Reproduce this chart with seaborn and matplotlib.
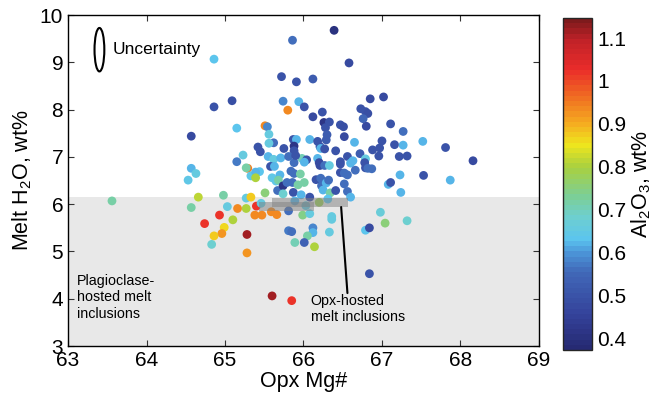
import numpy as np
import pandas as pd
import matplotlib
matplotlib.use("Agg")
import matplotlib.pyplot as plt
import seaborn as sns
from matplotlib.colors import LinearSegmentedColormap, Normalize
from matplotlib.patches import Ellipse, Rectangle

# values
opx_mg = [64.86, 65.09, 64.86, 65.15, 64.57, 65.23, 65.15, 65.42, 64.57, 64.63,
          64.53, 65.29, 65.27, 65.33, 65.44, 66.39, 65.86, 66.58, 65.72, 65.91,
          66.12, 66.85, 67.02, 65.74, 65.94, 65.80, 66.01, 66.24, 66.12, 66.73,
          66.79, 66.82, 66.76, 66.26, 66.33, 66.28, 66.47, 66.51, 66.80, 67.11,
          67.27, 67.52, 67.81, 68.16, 65.51, 65.54, 65.56, 65.87, 65.91, 66.08,
          66.18, 66.30, 66.29, 66.52, 66.65, 67.00, 67.16, 67.27, 66.88, 66.97,
          65.45, 65.62, 65.56, 65.75, 65.88, 65.88, 66.21, 66.22, 66.27, 66.41,
          66.56, 66.72, 66.79, 66.96, 67.22, 67.32, 65.55, 65.62, 65.71, 65.81,
          65.98, 66.04, 65.88, 66.01, 65.90, 66.18, 66.20, 66.21, 66.27, 66.33,
          66.47, 66.47, 66.60, 66.63, 66.78, 66.79, 66.82, 66.87, 67.23, 67.53,
          65.58, 65.63, 65.39, 65.84, 65.88, 65.96, 66.47, 66.52, 66.66, 66.56,
          65.39, 65.60, 67.87, 67.08, 67.11, 67.24, 65.67, 64.66, 64.98, 65.27,
          65.33, 65.51, 65.65, 65.70, 65.68, 65.74, 65.79, 65.86, 65.93, 66.01,
          65.74, 65.87, 65.97, 66.16, 66.22, 66.23, 66.29, 66.32, 66.25, 66.34,
          66.41, 66.52, 66.56, 66.60, 66.08, 66.20, 66.31, 63.56, 64.57, 65.03,
          65.16, 65.27, 65.40, 65.46, 65.38, 65.47, 65.59, 65.66, 64.93, 64.74,
          65.10, 64.99, 64.96, 64.86, 64.83, 65.28, 65.28, 65.81, 65.85, 65.81,
          65.99, 66.08, 66.36, 66.36, 66.12, 66.12, 66.05, 65.89, 66.01, 66.14,
          66.33, 66.98, 67.04, 66.79, 66.84, 67.32, 65.60, 65.85, 66.84, 66.03,
          65.89]
melt_h2o = [9.07, 8.19, 8.06, 7.61, 7.44, 7.04, 6.90, 7.21, 6.76, 6.65,
            6.51, 6.76, 6.77, 6.60, 6.69, 9.68, 9.47, 8.99, 8.70, 8.59,
            8.65, 8.23, 8.27, 8.18, 8.17, 7.99, 8.06, 7.95, 7.85, 8.02,
            7.96, 7.92, 7.81, 7.73, 7.74, 7.62, 7.68, 7.64, 7.65, 7.70,
            7.54, 7.33, 7.20, 6.92, 7.66, 7.64, 7.48, 7.37, 7.37, 7.37,
            7.33, 7.47, 7.36, 7.43, 7.31, 7.34, 7.26, 7.25, 7.15, 7.19,
            7.11, 7.30, 7.29, 7.18, 7.23, 7.13, 7.22, 7.18, 7.17, 7.13,
            7.01, 7.07, 6.96, 7.02, 7.01, 7.02, 7.01, 6.95, 6.98, 7.01,
            6.97, 6.94, 6.88, 6.89, 7.03, 6.97, 6.88, 6.82, 6.82, 6.82,
            6.90, 6.85, 6.87, 6.92, 6.88, 6.77, 6.76, 6.75, 6.62, 6.61,
            6.80, 6.80, 6.68, 6.70, 6.65, 6.64, 6.67, 6.66, 6.72, 6.62,
            6.56, 6.56, 6.51, 6.42, 6.46, 6.25, 6.29, 6.15, 6.19, 6.13,
            6.15, 6.24, 6.49, 6.62, 6.51, 6.39, 6.46, 6.46, 6.41, 6.46,
            6.22, 6.25, 6.20, 6.52, 6.55, 6.39, 6.45, 6.51, 6.30, 6.24,
            6.29, 6.43, 6.27, 6.15, 6.15, 6.04, 6.11, 6.07, 5.93, 5.95,
            5.91, 5.91, 5.96, 6.02, 5.77, 5.77, 5.84, 5.78, 5.77, 5.59,
            5.67, 5.51, 5.38, 5.33, 5.15, 5.36, 4.97, 5.44, 5.42, 5.86,
            5.77, 5.80, 5.74, 5.68, 5.50, 5.40, 5.33, 5.19, 5.19, 5.10,
            5.41, 5.83, 5.60, 5.45, 5.50, 5.65, 4.06, 3.96, 4.53, 5.97,
            6.07]
al2o3 = [0.63, 0.49, 0.50, 0.63, 0.48, 0.66, 0.57, 0.50, 0.62, 0.66,
         0.65, 0.95, 0.72, 0.65, 0.63, 0.40, 0.56, 0.48, 0.50, 0.50,
         0.52, 0.48, 0.47, 0.58, 0.62, 0.94, 0.50, 0.50, 0.48, 0.50,
         0.50, 0.49, 0.55, 0.42, 0.50, 0.50, 0.50, 0.49, 0.48, 0.50,
         0.56, 0.62, 0.50, 0.48, 0.93, 0.58, 0.66, 0.50, 0.62, 0.62,
         0.50, 0.52, 0.52, 0.48, 0.62, 0.50, 0.50, 0.62, 0.50, 0.50,
         0.50, 0.56, 0.66, 0.50, 0.42, 0.50, 0.50, 0.62, 0.50, 0.50,
         0.50, 0.52, 0.66, 0.50, 0.50, 0.50, 0.62, 0.66, 0.62, 0.56,
         0.71, 0.50, 0.56, 0.62, 0.50, 0.62, 0.48, 0.48, 0.56, 0.66,
         0.50, 0.50, 0.62, 0.62, 0.50, 0.50, 0.56, 0.56, 0.62, 0.50,
         0.50, 0.62, 0.62, 0.56, 0.56, 0.72, 0.50, 0.56, 0.56, 0.56,
         0.80, 0.64, 0.62, 0.62, 0.50, 0.62, 0.56, 0.81, 0.72, 0.66,
         0.87, 0.75, 0.64, 0.62, 0.72, 0.42, 0.56, 0.56, 0.72, 0.72,
         0.68, 0.50, 0.62, 0.50, 0.56, 0.56, 0.62, 0.56, 0.62, 0.72,
         0.50, 0.56, 0.56, 0.62, 0.50, 0.78, 0.63, 0.72, 0.72, 0.66,
         0.93, 0.80, 1.02, 0.66, 0.93, 0.93, 0.93, 0.93, 1.02, 1.02,
         0.80, 0.86, 0.92, 0.87, 0.68, 1.12, 0.92, 0.57, 0.56, 0.56,
         0.74, 0.66, 0.66, 0.66, 0.58, 0.62, 0.72, 0.70, 0.53, 0.80,
         0.66, 0.67, 0.75, 0.63, 0.48, 0.68, 1.12, 1.02, 0.50, 0.66,
         0.62]

df = pd.DataFrame({"mg": opx_mg, "h2o": melt_h2o, "al": al2o3})

al_min, al_max = 0.372, 1.147
plag_top = 6.15
opx_boxes = [(65.60, 5.94, 0.97, 0.19), (65.43, 5.86, 0.71, 0.19)]

# jet-like palette, a bit muted like the original
cmap = LinearSegmentedColormap.from_list("softjet", [
    (0.00, "#262a73"), (0.10, "#34429a"), (0.23, "#4168b8"), (0.29, "#4c95d8"),
    (0.33, "#5bc4ef"), (0.40, "#6ecfcf"), (0.46, "#7bcf98"), (0.55, "#a8d040"),
    (0.62, "#eee51e"), (0.68, "#f5b020"), (0.77, "#f06a22"), (0.85, "#ea2c2a"),
    (0.94, "#c02228"), (1.00, "#7e1a1c")], N=64)
norm = Normalize(al_min, al_max)

sns.set_theme(style="ticks")
plt.rcParams["font.family"] = ["Liberation Sans", "DejaVu Sans"]
plt.rcParams["mathtext.fontset"] = "custom"
plt.rcParams["mathtext.rm"] = "Liberation Sans"
plt.rcParams["text.color"] = "black"
plt.rcParams["axes.labelcolor"] = "black"
plt.rcParams["xtick.labelcolor"] = "black"
plt.rcParams["ytick.labelcolor"] = "black"

fig = plt.figure(figsize=(6.67, 4.0), dpi=100)
ax = fig.add_axes([0.102, 0.135, 0.706, 0.827])

ax.axhspan(3, plag_top, color="#e8e8e8", zorder=0, lw=0)

sns.scatterplot(data=df, x="mg", y="h2o", hue="al", palette=cmap,
                hue_norm=norm, s=40, linewidth=0, legend=False, ax=ax, zorder=2)

for x0, y0, w, h in opx_boxes:
    ax.add_patch(Rectangle((x0, y0), w, h, facecolor="grey", alpha=0.5,
                           lw=0, zorder=3))
ax.plot([66.48, 66.56], [5.94, 4.12], color="black", lw=1.5, zorder=4)
ax.text(66.09, 4.10, "Opx-hosted\nmelt inclusions", fontsize=10.3,
        va="top", ha="left", linespacing=1.2)
ax.text(63.11, 4.52, "Plagioclase-\nhosted melt\ninclusions", fontsize=10.3,
        va="top", ha="left", linespacing=1.2)

ax.add_patch(Ellipse((63.40, 9.27), 0.125, 0.92, fill=False, ec="black",
                     lw=1.5, zorder=4))
ax.text(63.57, 9.27, "Uncertainty", fontsize=12.5, va="center", ha="left")

ax.set_xlim(63, 69)
ax.set_ylim(3, 10)
ax.set_xticks(range(63, 70))
ax.set_yticks(range(3, 11))
ax.tick_params(direction="in", length=4, labelsize=15, top=True, right=True,
               width=0.8, color="#333333")
for sp in ax.spines.values():
    sp.set_linewidth(1.0)
    sp.set_color("black")
ax.set_xlabel("Opx Mg#", fontsize=15.5, labelpad=1)
ax.set_ylabel("Melt H$_\\mathregular{2}$O, wt%", fontsize=15.5, labelpad=4)

cax = fig.add_axes([0.8436, 0.125, 0.0444, 0.83])
sm = plt.cm.ScalarMappable(norm=norm, cmap=cmap)
cb = fig.colorbar(sm, cax=cax)
cb.set_ticks([0.4, 0.5, 0.6, 0.7, 0.8, 0.9, 1.0, 1.1])
cb.set_ticklabels(["0.4", "0.5", "0.6", "0.7", "0.8", "0.9", "1", "1.1"])
cax.tick_params(direction="in", length=3, labelsize=15, left=True, right=True,
                width=0.8, color="#333333")
cb.outline.set_linewidth(1.0)
cb.set_label("Al$_\\mathregular{2}$O$_\\mathregular{3}$, wt%", fontsize=15.5,
             labelpad=2)

fig.savefig("out.png", dpi=100)
